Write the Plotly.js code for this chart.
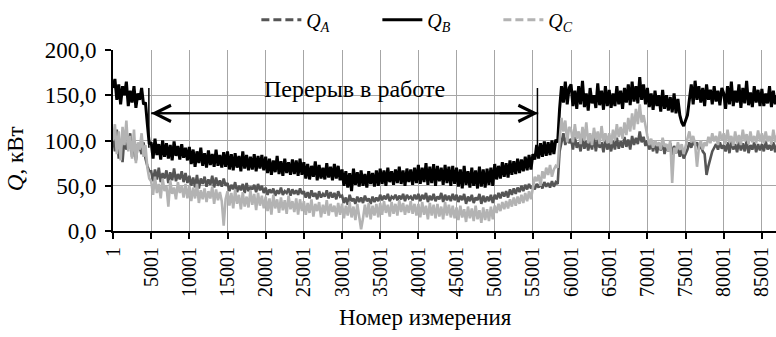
<!DOCTYPE html>
<html>
<head>
<meta charset="utf-8">
<script src="https://cdn.plot.ly/plotly-3.0.1.min.js"></script>
<style>html,body{margin:0;padding:0;background:#fff;}#chart{width:776px;height:337px;}</style>
</head>
<body>
<div id="chart"></div>
<script>
// Measurement numbers of the sampled points (every 250th measurement)
const sampleStart = 1;
const sampleStep = 250;

// Q_A, kW (dark grey) — one row = 5000 measurements
const qA = [
  105,88,112,80,98,76,104,90,95,108,82,100,78,96,92,85,98,80,72,66,
  66,55,68,57,70,54,64,58,67,53,65,56,69,55,63,57,66,54,64,53,
  61,50,59,48,62,47,58,52,60,49,57,51,61,48,59,50,56,49,58,50,
  53,44,51,46,54,43,50,45,52,42,53,44,49,46,51,43,52,45,50,42,
  48,40,46,42,47,39,45,41,48,40,44,42,47,39,46,41,45,40,47,41,
  44,37,43,36,45,38,42,35,44,37,41,38,45,36,43,37,42,35,44,38,
  39,31,37,29,40,33,36,30,38,32,37,31,39,33,36,30,38,32,37,33,
  40,34,39,35,41,33,38,36,40,34,39,35,41,33,40,36,38,34,40,35,
  41,33,40,35,42,32,39,34,41,33,38,35,42,32,40,34,39,33,41,34,
  40,32,39,34,41,30,38,33,40,31,37,34,41,30,39,32,38,33,40,31,
  40,35,42,36,43,38,44,37,46,40,47,41,48,43,50,44,51,46,52,47,
  50,46,52,48,53,47,54,49,53,48,55,49,54,52,88,100,108,95,104,97,
  102,90,104,92,98,88,103,91,100,89,99,90,104,88,101,92,98,87,102,90,
  97,88,100,90,103,91,99,92,104,93,101,90,105,95,103,96,110,98,104,94,
  100,90,97,88,99,86,96,89,98,85,95,88,97,84,94,86,92,82,90,80,
  85,90,98,92,100,94,98,90,96,88,85,62,72,80,88,92,96,90,98,91,
  95,88,98,86,100,90,96,87,99,89,97,88,100,86,95,90,98,87,96,89,
  96,88,99,90,95,89,98,87,96
];

// Q_B, kW (black)
const qB = [
  158,168,145,162,140,160,150,165,138,155,142,160,136,152,145,158,140,142,118,96,
  98,80,102,84,96,79,100,82,97,80,95,78,99,83,94,79,96,81,92,78,
  93,74,90,71,88,75,92,72,86,70,89,73,85,71,90,72,84,70,87,71,
  88,68,85,67,86,70,83,66,88,69,84,67,82,68,85,66,83,69,84,67,
  82,64,80,62,78,65,83,63,77,61,80,64,76,62,79,63,78,61,80,62,
  76,58,74,57,72,60,77,56,73,58,70,57,75,59,71,56,74,58,72,56,
  68,50,66,48,64,44,69,51,65,49,67,50,63,48,66,52,64,49,67,50,
  69,52,67,50,70,54,66,51,68,53,71,52,67,50,69,54,68,51,70,53,
  73,52,70,54,75,51,71,53,74,50,72,55,70,51,73,53,71,50,72,52,
  70,49,68,47,72,51,66,48,70,50,67,47,71,49,68,48,69,51,70,50,
  74,57,72,58,76,60,75,59,78,62,77,63,80,64,79,66,82,67,84,68,
  85,79,95,80,97,82,99,83,98,84,100,85,101,98,135,160,142,165,140,158,
  162,138,155,135,160,140,166,137,152,133,158,141,150,136,163,139,155,134,160,138,
  156,136,152,138,160,140,155,135,158,142,162,139,165,143,160,141,170,145,162,140,
  158,137,152,134,155,138,150,132,156,135,150,133,148,131,152,130,146,128,120,116,
  122,128,145,162,140,166,145,160,142,158,138,162,145,156,140,160,143,155,139,158,
  152,135,160,140,165,138,155,142,162,136,158,141,166,139,153,137,160,142,156,138,
  157,138,152,141,160,137,155,140,150
];

// Q_C, kW (light grey)
const qC = [
  100,118,85,110,78,115,95,122,88,105,80,112,75,98,90,108,82,95,70,58,
  55,40,60,42,52,36,58,44,50,27,56,41,48,35,54,42,50,37,52,36,
  50,33,48,36,52,31,45,35,47,32,44,36,49,30,46,34,43,33,6,35,
  44,28,42,25,46,30,40,24,43,27,38,26,45,29,41,23,42,28,39,25,
  38,22,36,18,40,25,35,20,37,23,34,19,39,24,33,21,36,18,35,22,
  33,18,31,20,35,16,30,22,32,15,29,19,34,17,30,21,28,16,31,18,
  30,14,28,17,32,15,27,12,30,16,2,14,29,15,31,13,28,17,30,15,
  31,18,33,20,29,16,32,19,30,17,34,21,31,18,29,20,33,19,30,17,
  30,15,32,18,28,13,31,17,29,14,30,16,27,13,32,17,29,15,28,14,
  26,12,28,15,24,10,27,14,25,11,28,13,23,9,26,12,24,11,27,13,
  28,20,30,22,32,24,33,25,35,27,37,28,38,30,40,31,42,33,44,35,
  48,60,55,62,50,66,58,70,62,73,60,68,72,70,100,125,110,122,98,115,
  112,98,118,102,110,96,115,100,120,97,108,95,114,101,110,96,116,99,108,97,
  108,96,112,100,118,104,115,102,120,106,125,110,130,112,135,118,140,120,128,115,
  105,95,102,92,100,94,98,90,103,93,96,88,100,53,92,86,98,90,96,85,
  95,102,110,98,105,96,71,92,100,90,98,94,104,97,108,99,105,95,110,100,
  108,96,112,98,105,94,110,97,106,95,112,99,107,96,110,98,105,97,111,99,
  108,97,110,99,105,96,112,98,106
];

const xTickVals = [1,5001,10001,15001,20001,25001,30001,35001,40001,45001,50001,55001,60001,65001,70001,75001,80001,85001];
const xTickText = ["1","5001","10001","15001","20001","25001","30001","35001","40001","45001","50001","55001","60001","65001","70001","75001","80001","85001"];
const seriesNames = ["<i>Q<sub>A</sub></i>", "<i>Q<sub>B</sub></i>", "<i>Q<sub>C</sub></i>"];

// Break in operation (measurement numbers) and arrow level
const breakStart = 4700, breakEnd = 55600;
const arrowFrom = 5000, arrowTo = 55700, arrowLevel = 130;

const xs = qA.map((_, i) => sampleStart + i * sampleStep);

const FONT = "\"Liberation Serif\", \"Times New Roman\", serif";
const colA = "#555555", colB = "#000000", colC = "#b3b3b3";

const traces = [
  {x: xs, y: qA, mode: "lines", line: {color: colA, width: 2.6}, showlegend: false, hoverinfo: "skip"},
  {x: xs, y: qB, mode: "lines", line: {color: colB, width: 3}, showlegend: false, hoverinfo: "skip"},
  {x: xs, y: qC, mode: "lines", line: {color: colC, width: 2.6}, showlegend: false, hoverinfo: "skip"},
  {x: [null], y: [null], mode: "lines", name: seriesNames[0], line: {color: colA, width: 3, dash: "8px,4px"}},
  {x: [null], y: [null], mode: "lines", name: seriesNames[1], line: {color: colB, width: 3}},
  {x: [null], y: [null], mode: "lines", name: seriesNames[2], line: {color: colC, width: 3, dash: "8px,4px"}}
];

const layout = {
  width: 776, height: 337,
  margin: {l: 113, r: 0, t: 45, b: 106, pad: 0},
  paper_bgcolor: "#fff", plot_bgcolor: "#fff",
  separators: ", ",
  font: {family: FONT, color: "#000", size: 20},
  showlegend: true,
  legend: {orientation: "h", x: 0.49, xanchor: "center", y: 1.167, yanchor: "middle",
           font: {family: FONT, size: 20, color: "#000"}, bgcolor: "rgba(0,0,0,0)",
           itemwidth: 40, entrywidth: 66, tracegroupgap: 0},
  xaxis: {
    range: [1, 86850], tickmode: "array", tickvals: xTickVals, ticktext: xTickText,
    tickangle: -90, ticks: "outside", ticklen: 6, tickwidth: 2, tickcolor: "#000",
    showline: true, linecolor: "#000", linewidth: 2,
    showgrid: true, gridcolor: "#a6a6a6", gridwidth: 1, zeroline: false,
    tickfont: {family: FONT, size: 20, color: "#000"}
  },
  yaxis: {
    range: [0, 200], tickmode: "linear", tick0: 0, dtick: 50, tickformat: ".1f",
    ticks: "outside", ticklen: 6, tickwidth: 2, tickcolor: "#000", ticklabelstandoff: 4,
    showline: true, linecolor: "#000", linewidth: 2,
    showgrid: true, gridcolor: "#a6a6a6", gridwidth: 1, zeroline: false,
    tickfont: {family: FONT, size: 23, color: "#000"}
  },
  shapes: [
    {type: "line", xref: "x", yref: "y", x0: breakStart, x1: breakStart, y0: 92, y1: 158, line: {color: "#000", width: 1.5}},
    {type: "line", xref: "x", yref: "y", x0: breakEnd, x1: breakEnd, y0: 92, y1: 158, line: {color: "#000", width: 1.5}},
    {type: "line", xref: "x", yref: "y", x0: arrowFrom, x1: arrowTo, y0: arrowLevel, y1: arrowLevel, line: {color: "#000", width: 2}}
  ],
  annotations: [
    {text: "Перерыв в работе", xref: "x", yref: "y", x: 31600, y: 157, showarrow: false,
     xanchor: "center", yanchor: "middle", font: {family: FONT, size: 24, color: "#000"}},
    {text: "", xref: "x", yref: "y", x: arrowFrom, y: arrowLevel, ax: 40, ay: 0, showarrow: true,
     arrowhead: 5, arrowsize: 1.6, arrowwidth: 2, arrowcolor: "#000", font: {size: 1}},
    {text: "", xref: "x", yref: "y", x: arrowTo, y: arrowLevel, ax: -40, ay: 0, showarrow: true,
     arrowhead: 5, arrowsize: 1.6, arrowwidth: 2, arrowcolor: "#000", font: {size: 1}},
    {text: "Номер измерения", xref: "paper", yref: "paper", x: 0.472, y: -0.478, showarrow: false,
     xanchor: "center", yanchor: "middle", font: {family: FONT, size: 23, color: "#000"}},
    {text: "<i>Q</i>, кВт", xref: "paper", yref: "paper", x: -0.146, y: 0.398, textangle: -90, showarrow: false,
     xanchor: "center", yanchor: "middle", font: {family: FONT, size: 23, color: "#000"}}
  ]
};

Plotly.newPlot("chart", traces, layout, {staticPlot: true, displayModeBar: false});
</script>
</body>
</html>
